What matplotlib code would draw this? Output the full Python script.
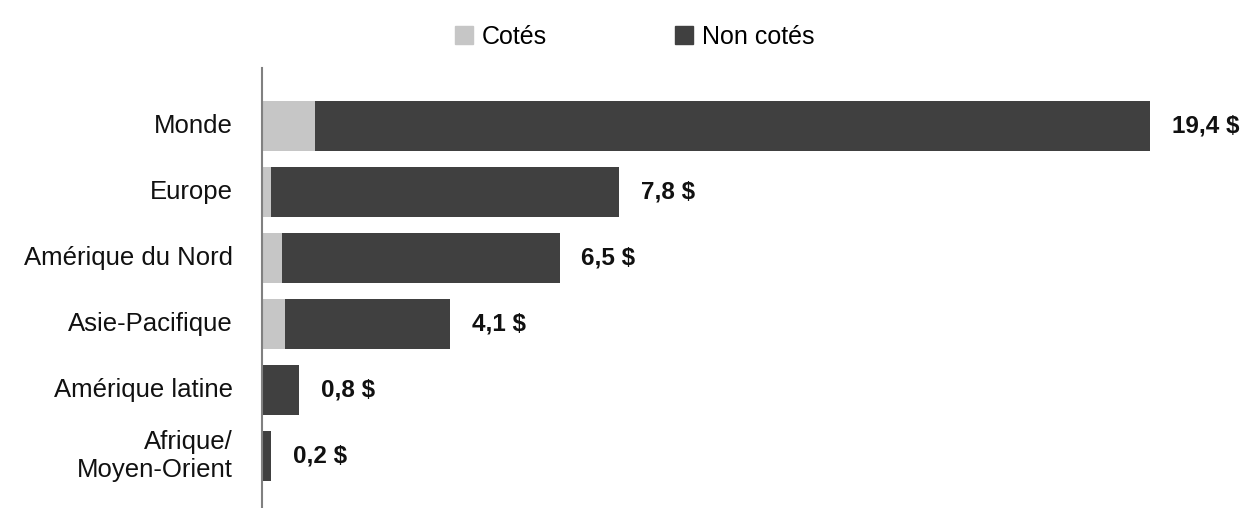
import matplotlib
matplotlib.use("Agg")
import matplotlib.pyplot as plt
from matplotlib.lines import Line2D

plt.rcParams['font.family'] = ['Liberation Sans', 'DejaVu Sans']

# Data (milliards de $)
regions = ['Monde', 'Europe', 'Amérique du Nord', 'Asie-Pacifique',
           'Amérique latine', 'Afrique/\nMoyen-Orient']
totals = [19.4, 7.8, 6.5, 4.1, 0.8, 0.2]
cotes = [1.15, 0.2, 0.43, 0.5, 0.0, 0.0]
non_cotes = [t - c for t, c in zip(totals, cotes)]
value_labels = ['19,4 $', '7,8 $', '6,5 $', '4,1 $', '0,8 $', '0,2 $']

c_light = '#c6c6c6'
c_dark = '#404040'

fig = plt.figure(figsize=(12.48, 5.08), dpi=100)
ax = fig.add_axes([262 / 1248, 0, (1244 - 262) / 1248, (508 - 68) / 508])

y = list(range(len(regions)))
ax.barh(y, cotes, height=0.76, color=c_light)
ax.barh(y, non_cotes, left=cotes, height=0.76, color=c_dark)

for yi, t, lab in zip(y, totals, value_labels):
    ax.text(t + 0.48, yi, lab, va='center', ha='left', fontsize=17.5,
            fontweight='bold', color='#111111')

ax.set_ylim(5.79, -0.88)
ax.set_xlim(0, (1244 - 262) / 45.77)
ax.set_yticks(y)
ax.set_yticklabels(regions, fontsize=18.5, color='#111111', ha='right',
                   va='center')
ax.tick_params(axis='y', length=0, pad=21)
ax.set_xticks([])
for s in ['top', 'right', 'bottom']:
    ax.spines[s].set_visible(False)
ax.spines['left'].set_color('#808080')
ax.spines['left'].set_linewidth(1.5)

handles = [Line2D([], [], marker='s', linestyle='none', markersize=13,
                  markerfacecolor=c_light, markeredgecolor=c_light),
           Line2D([], [], marker='s', linestyle='none', markersize=13,
                  markerfacecolor=c_dark, markeredgecolor=c_dark)]
fig.legend(handles, ['Cotés', 'Non cotés'], ncol=2, frameon=False,
           loc='center', bbox_to_anchor=(634 / 1248, 1 - 37 / 508),
           fontsize=18, handlelength=0.8, handletextpad=0.3,
           columnspacing=5.1)

fig.savefig('out.png', dpi=100, facecolor='white')
